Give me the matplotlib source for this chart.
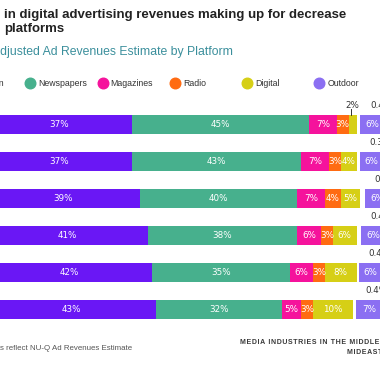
import matplotlib
matplotlib.use("Agg")
import matplotlib.pyplot as plt
import numpy as np

#---------------------------------------#
# DATA
#---------------------------------------#
years = ["2011", "2012", "2013", "2014", "2015", "2016"]
platforms = ["Television", "Newspapers", "Magazines", "Radio", "Digital", "Other", "Outdoor"]
television = [37, 37, 39, 41, 42, 43]
newspapers = [45, 43, 40, 38, 35, 32]
magazines = [7, 7, 7, 6, 6, 5]
radio = [3, 3, 4, 3, 3, 3]
digital = [2, 4, 5, 6, 8, 10]
other = [1.0, 0.8, 1.2, 1.2, 0.5, 0.8]
other_labels = ["0.4%", "0.3%", "0.4%", "0.4%", "0.4%", "0.4%"]
outdoor = [6, 6, 6, 6, 6, 7]

colors = {
    "Television": "#6a17f5",
    "Newspapers": "#47b08d",
    "Magazines": "#f5139c",
    "Radio": "#ff6b12",
    "Digital": "#d6cf16",
    "Other": "#ffffff",
    "Outdoor": "#8b6ff2",
}

W, H = 380, 372
fig = plt.figure(figsize=(W / 100, H / 100), dpi=100)

# helper: pixel position -> figure fraction
def fx(px):
    return px / W

def fy(py):
    return 1 - py / H

#---------------------------------------#
# BARS
#---------------------------------------#
ax = fig.add_axes([0, 0, 1, 1])
ax.set_xlim(13.8 / 3.94, (W + 13.8) / 3.94)
ax.set_ylim((H - 124.5) / 37, -124.5 / 37)
ax.axis("off")

series = [television, newspapers, magazines, radio, digital, other, outdoor]
rows = np.arange(len(years))
left = np.zeros(len(years))
for name, vals in zip(platforms, series):
    vals = np.array(vals, dtype=float)
    ax.barh(rows, vals, left=left, height=0.53, color=colors[name])
    for i, v in enumerate(vals):
        cx = left[i] + v / 2
        if name == "Other":
            ax.text(left[i] + v + 2.4, i - 0.52, other_labels[i], ha="left", va="center",
                    fontsize=6.3, color="#333333")
        elif v >= 3:
            ax.text(cx, i, f"{v:.0f}%", ha="center", va="center", fontsize=6.3,
                    color="white")
        else:
            # small segment: label above with a leader line
            ax.text(cx, i - 0.52, f"{v:.0f}%", ha="center", va="center",
                    fontsize=6.3, color="#333333")
            ax.plot([cx - 0.3, cx - 0.3], [i - 0.42, i - 0.27], color="#333333", lw=0.7)
    left += vals

#---------------------------------------#
# TEXTS
#---------------------------------------#
fig.text(fx(4), fy(15), "in digital advertising revenues making up for decrease",
         fontsize=9.5, fontweight="bold", color="#222222", family="Liberation Sans",
         va="center", ha="left")
fig.text(fx(4), fy(29), "platforms",
         fontsize=9.5, fontweight="bold", color="#222222", family="Liberation Sans",
         va="center", ha="left")
fig.text(fx(-8), fy(52), "Adjusted Ad Revenues Estimate by Platform",
         fontsize=8.8, color="#3b8f9c", family="Liberation Sans", va="center", ha="left")

# legend drawn by hand so the spacing matches
for k, name in enumerate(["Television", "Newspapers", "Magazines", "Radio", "Digital", "Outdoor"]):
    cx = -42 + 72.3 * k
    ax.scatter([(cx + 13.8) / 3.94], [(83 - 124.5) / 37], s=58, color=colors[name],
               clip_on=False, zorder=3)
    fig.text(fx(cx + 8), fy(83), name, fontsize=6.3, color="#333333",
             family="Liberation Sans", va="center", ha="left")

fig.text(fx(0), fy(348), "s reflect NU-Q Ad Revenues Estimate", fontsize=5.7,
         color="#555555", family="Liberation Sans", va="center", ha="left")
fig.text(fx(240), fy(343), "\u200a".join("MEDIA INDUSTRIES IN THE MIDDLE EAST"),
         fontsize=5.0, fontweight="bold", color="#3a3a3a", family="Liberation Sans",
         va="center", ha="left")
fig.text(fx(347), fy(353), "\u200a".join("MIDEASTMEDIA.ORG"),
         fontsize=5.0, fontweight="bold", color="#3a3a3a", family="Liberation Sans",
         va="center", ha="left")

plt.savefig("out.png", dpi=100)
